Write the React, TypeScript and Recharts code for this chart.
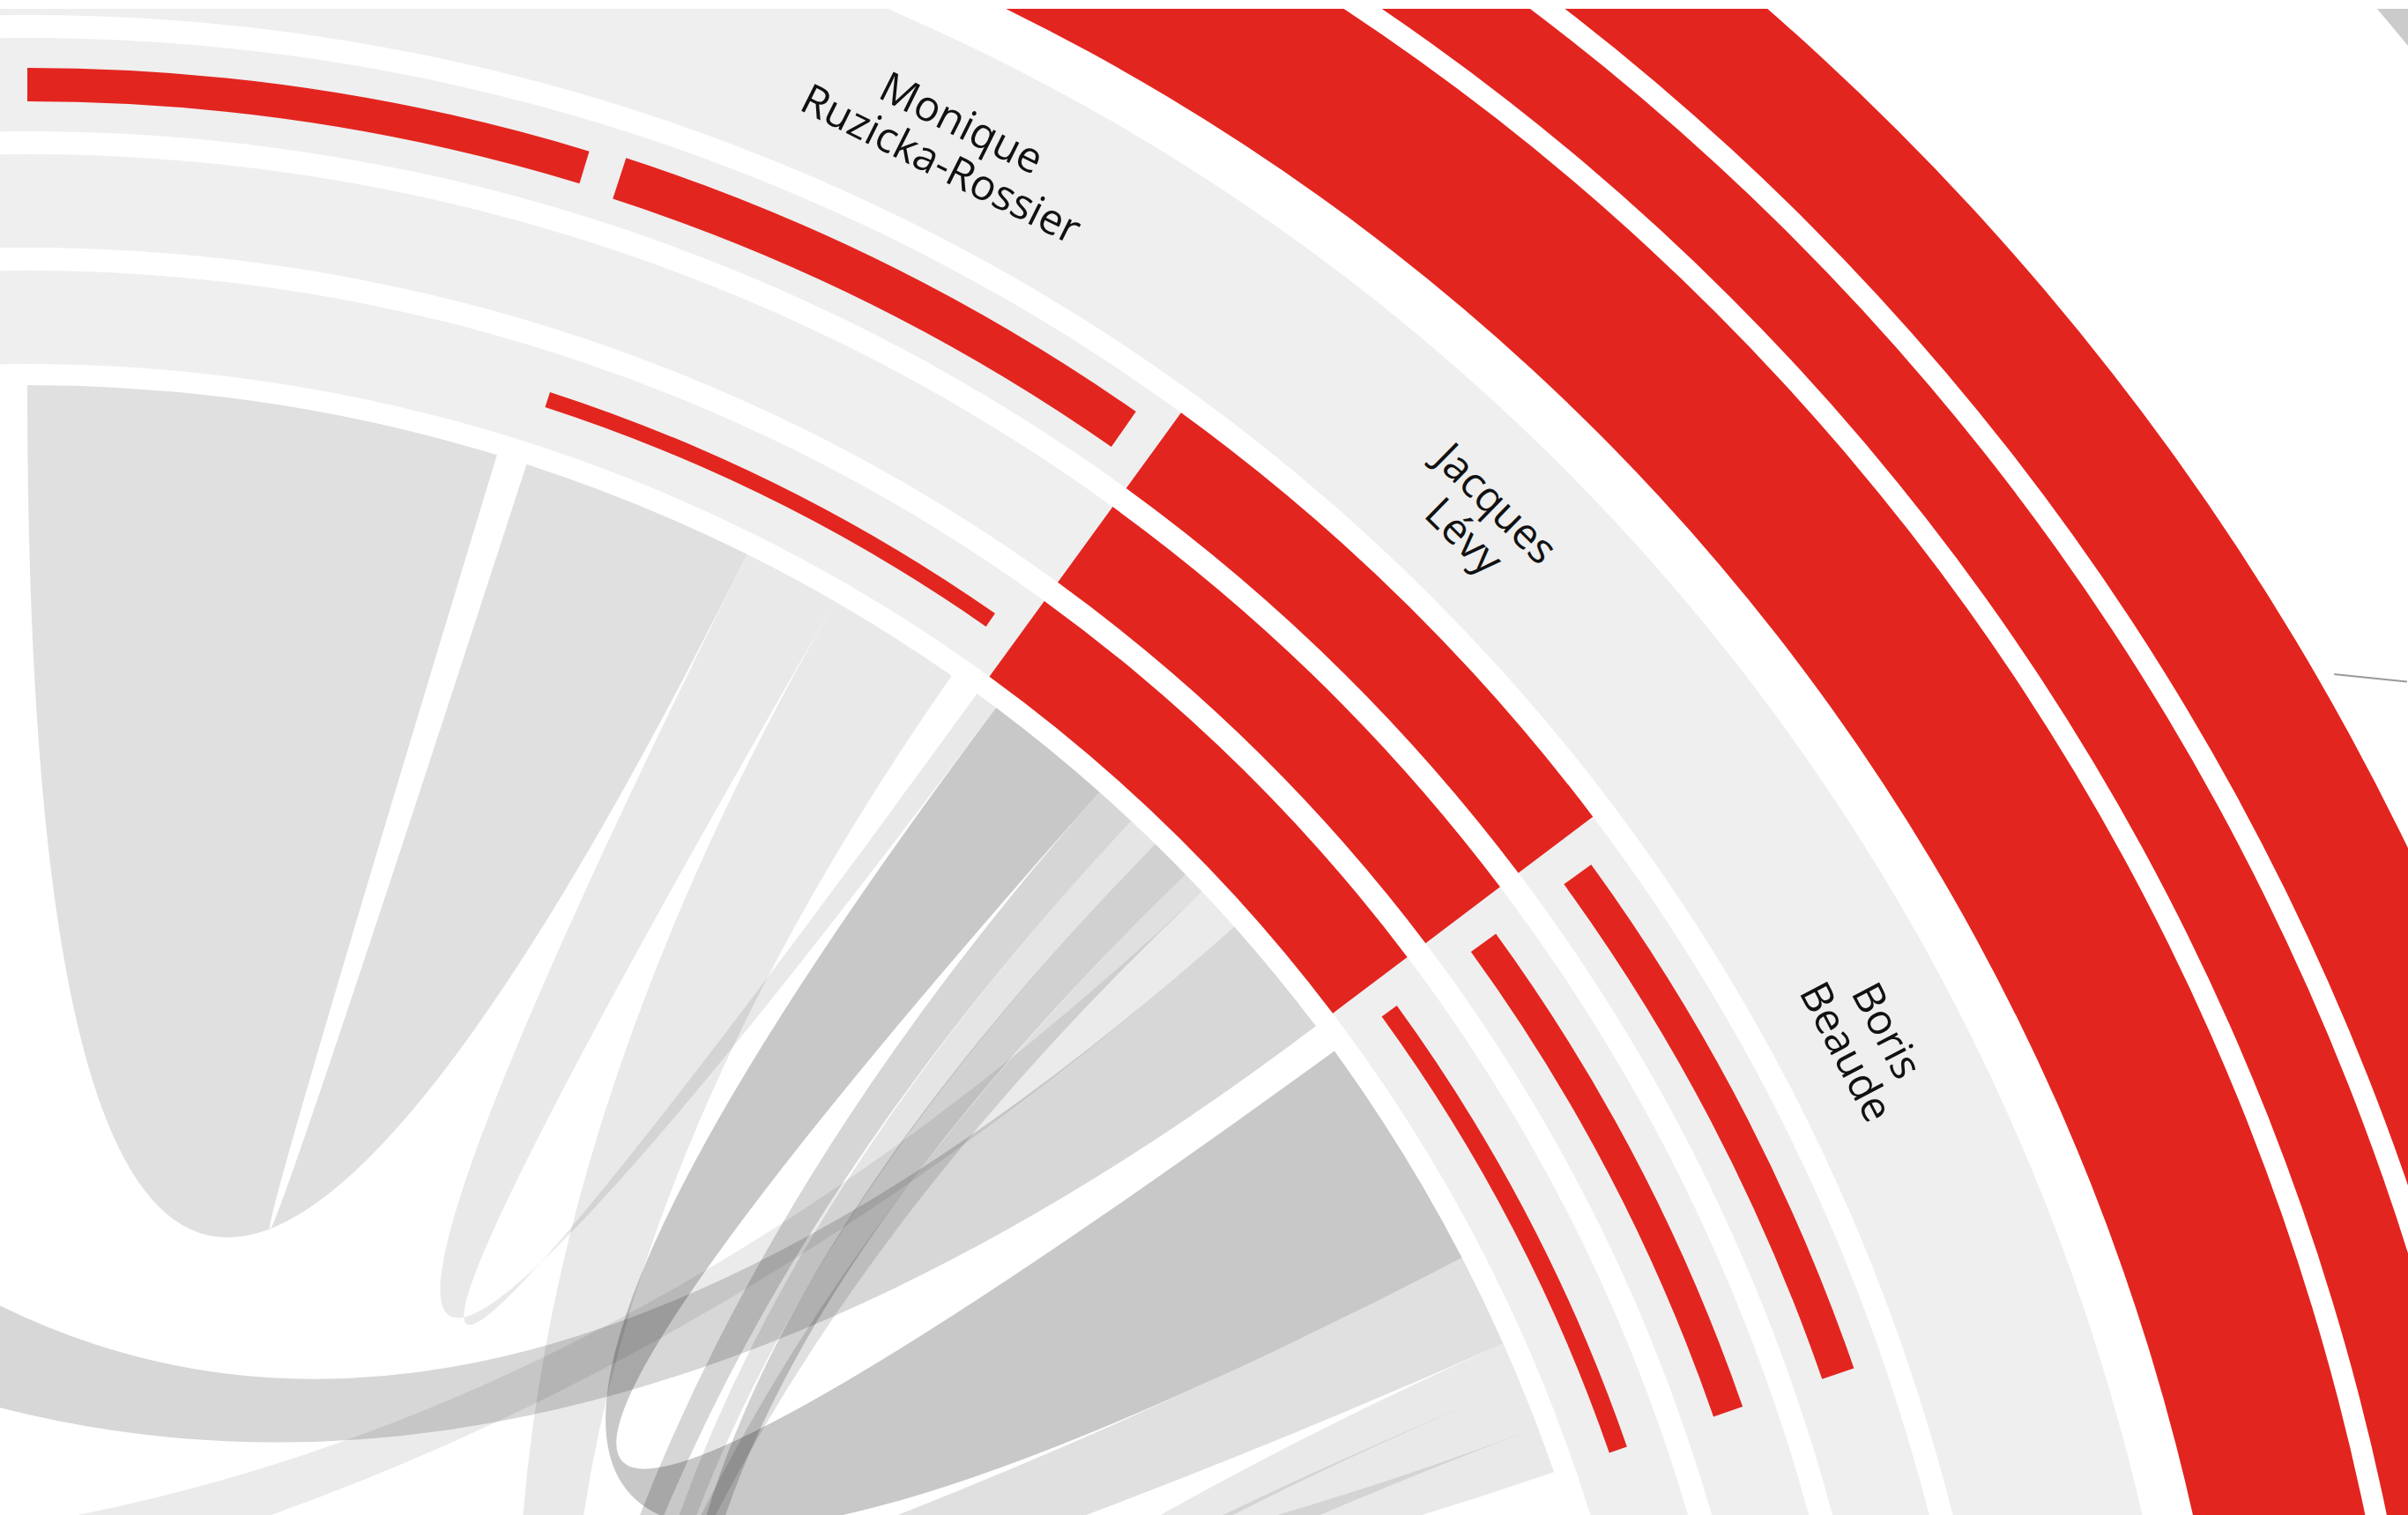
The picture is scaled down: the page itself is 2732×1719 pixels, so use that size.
import React from "react";
import { PieChart, Pie, Cell, Customized } from "recharts";

// chart area (placed 10px below the top of the page) and the circle's center
const WIDTH = 2732;
const HEIGHT = 1709;
const CX = 31;
const CY = 2260;

// radial layout
const CHORD_R = 1833;
const RING_WIDTH = 106;
const RING_INNER = [1857, 1989, 2121]; // inner, middle, outer bar rings
const LABEL_BAND = [2253, 2462];
const LABEL_R = 2354;
const OUTER_START = 2518;
const OUTER_GAP = 24;
const OUTER_MAX = 191;
const SPAN = 16.9;
const PAD = 1.1;

const RED = "#e3251f";
const BAND = "#efefef";

// 20 people, equal arcs
const groupWeights = [1, 1, 1, 1, 1, 1, 1, 1, 1, 1, 1, 1, 1, 1, 1, 1, 1, 1, 1, 1];
const nameLine1 = ["", "Monique", "Jacques", "Boris", "", "", "", "", "", "", "", "", "", "", "", "", "", "", "", ""];
const nameLine2 = ["", "Ruzicka-Rossier", "Lévy", "Beaude", "", "", "", "", "", "", "", "", "", "", "", "", "", "", "", ""];

// bar values per ring (share of ring width)
const innerRingBars = [0, 0.17, 1, 0.2, 0, 0, 0, 0, 0, 0, 0, 0, 0, 0, 0, 0, 0, 0, 0, 0];
const middleRingBars = [0, 0, 1, 0.33, 0, 0, 0, 0, 0, 0, 0, 0, 0, 0, 0, 0, 0, 0, 0, 0];
const outerRingBars = [0.36, 0.46, 1, 0.36, 0, 0, 0, 0, 0, 0, 0, 0, 0, 0, 0, 0, 0, 0, 0, 0];

// big outer bands (relative thickness) and their angular extent
const outerBands = [1, 0.513, 0.764];
const outerBandFrom = -30;
const outerBandTo = 120;

// far ring fragment and leader line
const farRing = { from: 40, to: 60, inner: 3495, outer: 3700 };
const leaderAngle = [60.1, 61];
const leaderRadius = [3019, 3087];

// chords: share of the group's arc at each end
const chordSource = [0, 1, 1, 2, 2, 2, 2, 2, 2, 2, 3, 3, 3, 3];
const chordSourceShare = [100, 21, 29, 28, 9, 7, 9, 5, 10, 27, 20, 9, 10, 10];
const chordTarget = [1, 2, 7, 3, 8, 7, 6, 8, 16, 18, 15, 11, 12, 17];
const chordTargetShare = [50, 5, 20, 51, 10, 8, 12, 6, 59, 71, 18, 8, 8, 8];
const chordShade = [0.12, 0.086, 0.086, 0.216, 0.16, 0.1, 0.18, 0.12, 0.08, 0.157, 0.12, 0.086, 0.086, 0.086];

const groupData = groupWeights.map((v, i) => ({
  value: v,
  line1: nameLine1[i],
  line2: nameLine2[i],
}));

const rad = (deg: number) => (deg * Math.PI) / 180;
const pt = (theta: number, r: number) => [
  CX + r * Math.sin(rad(theta)),
  CY - r * Math.cos(rad(theta)),
];

function layoutChords() {
  const cursor = groupWeights.map((_, g) => g * (SPAN + PAD));
  return chordSource.map((s, i) => {
    const a = (chordSourceShare[i] / 100) * SPAN;
    const s0 = cursor[s];
    cursor[s] += a;
    const t = chordTarget[i];
    const b = (chordTargetShare[i] / 100) * SPAN;
    const t0 = cursor[t];
    cursor[t] += b;
    return { s0, s1: s0 + a, t0, t1: t0 + b, shade: chordShade[i] };
  });
}

function ribbonPath(s0: number, s1: number, t0: number, t1: number) {
  const r = CHORD_R;
  const [a0x, a0y] = pt(s0, r);
  const [a1x, a1y] = pt(s1, r);
  const [b0x, b0y] = pt(t0, r);
  const [b1x, b1y] = pt(t1, r);
  const la = s1 - s0 > 180 ? 1 : 0;
  const lb = t1 - t0 > 180 ? 1 : 0;
  return (
    `M${a0x},${a0y}A${r},${r} 0 ${la} 1 ${a1x},${a1y}` +
    `Q${CX},${CY} ${b0x},${b0y}` +
    `A${r},${r} 0 ${lb} 1 ${b1x},${b1y}` +
    `Q${CX},${CY} ${a0x},${a0y}Z`
  );
}

function Ribbons() {
  const chords = layoutChords();
  const [l0x, l0y] = pt(leaderAngle[0], leaderRadius[0]);
  const [l1x, l1y] = pt(leaderAngle[1], leaderRadius[1]);
  return (
    <g>
      {chords.map((c, i) => (
        <path key={i} d={ribbonPath(c.s0, c.s1, c.t0, c.t1)} fill="#000" fillOpacity={c.shade} stroke="none" />
      ))}
      <line x1={l0x} y1={l0y} x2={l1x} y2={l1y} stroke="#9a9a9a" strokeWidth={2} />
    </g>
  );
}

function renderName(props: any) {
  const { midAngle, index } = props;
  const l1 = nameLine1[index];
  const l2 = nameLine2[index];
  if (!l1) return null;
  const theta = 90 - midAngle;
  const [x, y] = pt(theta, LABEL_R);
  return (
    <text
      key={`name-${index}`}
      x={x}
      y={y}
      transform={`rotate(${theta} ${x} ${y})`}
      textAnchor="middle"
      fontFamily="'Open Sans', sans-serif"
      fontSize={48}
      fill="#111"
    >
      <tspan x={x} dy={-9}>{l1}</tspan>
      <tspan x={x} dy={52}>{l2}</tspan>
    </text>
  );
}

const barRings = [innerRingBars, middleRingBars, outerRingBars];

export default function App() {
  let outerCursor = OUTER_START;
  const bandRadii = outerBands.map((v) => {
    const inner = outerCursor;
    const outer = inner + v * OUTER_MAX;
    outerCursor = outer + OUTER_GAP;
    return [inner, outer];
  });

  return (
    <div
      style={{
        position: "absolute",
        left: 0,
        top: 10,
        width: WIDTH,
        height: HEIGHT,
        overflow: "hidden",
        background: "#fff",
      }}
    >
      <PieChart width={WIDTH} height={HEIGHT} margin={{ top: 0, right: 0, bottom: 0, left: 0 }}>
        <Customized component={Ribbons} />

        {/* background rings */}
        {RING_INNER.map((r0, k) => (
          <Pie
            key={`ring-${k}`}
            data={[{ value: 1 }]}
            dataKey="value"
            cx={CX}
            cy={CY}
            startAngle={90}
            endAngle={-270}
            innerRadius={r0}
            outerRadius={r0 + RING_WIDTH}
            fill={BAND}
            stroke="none"
            isAnimationActive={false}
          />
        ))}
        <Pie
          data={[{ value: 1 }]}
          dataKey="value"
          cx={CX}
          cy={CY}
          startAngle={90}
          endAngle={-270}
          innerRadius={LABEL_BAND[0]}
          outerRadius={LABEL_BAND[1]}
          fill={BAND}
          stroke="none"
          isAnimationActive={false}
        />

        {/* red bars, one pie per bar */}
        {barRings.flatMap((vals, k) =>
          vals.map((v, g) => {
            if (!v) return null;
            const mid = RING_INNER[k] + RING_WIDTH / 2;
            const half = (v * RING_WIDTH) / 2;
            return (
              <Pie
                key={`bar-${k}-${g}`}
                data={groupData}
                dataKey="value"
                cx={CX}
                cy={CY}
                startAngle={90}
                endAngle={-270}
                paddingAngle={PAD}
                innerRadius={mid - half}
                outerRadius={mid + half}
                stroke="none"
                isAnimationActive={false}
              >
                {groupData.map((_, i) => (
                  <Cell key={i} fill={i === g ? RED : "none"} stroke="none" />
                ))}
              </Pie>
            );
          })
        )}

        {/* names */}
        <Pie
          data={groupData}
          dataKey="value"
          cx={CX}
          cy={CY}
          startAngle={90}
          endAngle={-270}
          paddingAngle={PAD}
          innerRadius={LABEL_BAND[0]}
          outerRadius={LABEL_BAND[1]}
          fill="none"
          stroke="none"
          label={renderName}
          labelLine={false}
          isAnimationActive={false}
        />

        {/* big outer bands */}
        {bandRadii.map(([r0, r1], k) => (
          <Pie
            key={`outer-${k}`}
            data={[{ value: 1 }]}
            dataKey="value"
            cx={CX}
            cy={CY}
            startAngle={90 - outerBandFrom}
            endAngle={90 - outerBandTo}
            innerRadius={r0}
            outerRadius={r1}
            fill={RED}
            stroke="none"
            isAnimationActive={false}
          />
        ))}
        <Pie
          data={[{ value: 1 }]}
          dataKey="value"
          cx={CX}
          cy={CY}
          startAngle={90 - farRing.from}
          endAngle={90 - farRing.to}
          innerRadius={farRing.inner}
          outerRadius={farRing.outer}
          fill="#cbcbcb"
          stroke="none"
          isAnimationActive={false}
        />
      </PieChart>
    </div>
  );
}
